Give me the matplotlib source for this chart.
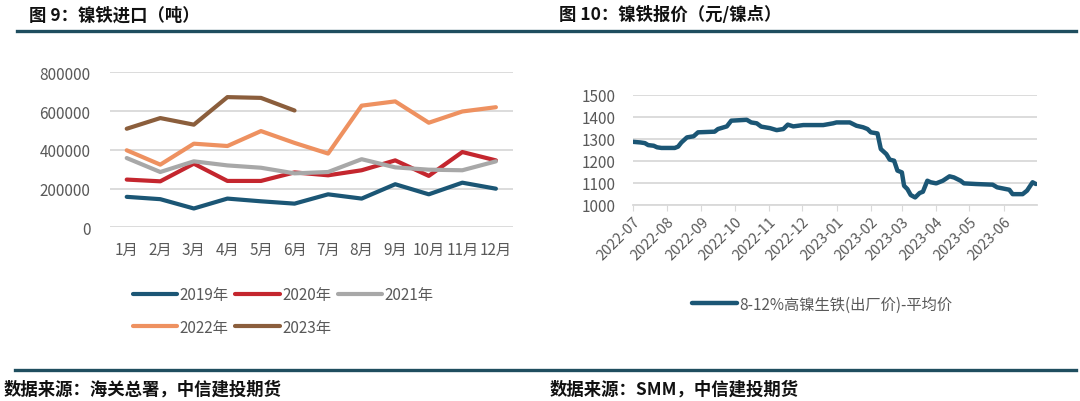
import matplotlib.pyplot as plt
import matplotlib.dates as mdates
import pandas as pd

plt.rcParams['font.family'] = ['Noto Sans CJK SC', 'DejaVu Sans']

# ---- left chart: nickel pig iron imports (tonnes) ----
months = ["1月", "2月", "3月", "4月", "5月", "6月", "7月", "8月", "9月", "10月", "11月", "12月"]
imp_2019 = [158000, 146000, 98000, 149000, 135000, 123000, 171000, 149000, 223000, 171000, 231000, 200000]
imp_2020 = [247000, 238000, 329000, 240000, 240000, 284000, 269000, 295000, 346000, 266000, 389000, 346000]
imp_2021 = [358000, 286000, 341000, 320000, 308000, 279000, 286000, 352000, 310000, 298000, 295000, 341000]
imp_2022 = [398000, 324000, 432000, 420000, 497000, 436000, 381000, 628000, 650000, 540000, 598000, 620000]
imp_2023 = [509000, 564000, 530000, 672000, 668000, 603000]

# ---- right chart: 8-12% high nickel pig iron price (yuan / nickel point) ----
price_dates = [
    "2022-07-01", "2022-07-08", "2022-07-12", "2022-07-15", "2022-07-20", "2022-07-23",
    "2022-07-27", "2022-08-08", "2022-08-11", "2022-08-14", "2022-08-19", "2022-08-25",
    "2022-08-29", "2022-09-13", "2022-09-16", "2022-09-24", "2022-09-28", "2022-10-12",
    "2022-10-16", "2022-10-21", "2022-10-25", "2022-11-02", "2022-11-08", "2022-11-14",
    "2022-11-18", "2022-11-23", "2022-12-02", "2022-12-20", "2022-12-29",
    "2023-01-01", "2023-01-13", "2023-01-19", "2023-01-25", "2023-01-29", "2023-02-01",
    "2023-02-07", "2023-02-10", "2023-02-15", "2023-02-18", "2023-02-22", "2023-02-25",
    "2023-03-01", "2023-03-03", "2023-03-06", "2023-03-09", "2023-03-13", "2023-03-17",
    "2023-03-20", "2023-03-24", "2023-03-27", "2023-04-01", "2023-04-07", "2023-04-13",
    "2023-04-17", "2023-04-23", "2023-04-26", "2023-05-07", "2023-05-22", "2023-05-26",
    "2023-06-06", "2023-06-09", "2023-06-18", "2023-06-22", "2023-06-27", "2023-06-30",
]
price_vals = [
    1286, 1283, 1280, 1271, 1268, 1261,
    1258, 1258, 1264, 1283, 1306, 1311,
    1329, 1332, 1344, 1356, 1382, 1386,
    1374, 1370, 1355, 1348, 1339, 1344,
    1364, 1356, 1362, 1362, 1370,
    1374, 1374, 1359, 1352, 1344, 1329,
    1324, 1253, 1230, 1205, 1200, 1155,
    1147, 1086, 1071, 1044, 1033, 1053,
    1059, 1109, 1102, 1097, 1109, 1129,
    1124, 1109, 1097, 1094, 1091, 1079,
    1068, 1048, 1048, 1064, 1102, 1094,
]

price_label = "8-12%高镍生铁(出厂价)-平均价"

colors = {"2019年": "#1b5675", "2020年": "#c4262e", "2021年": "#a8a8a8",
          "2022年": "#ee9160", "2023年": "#8b5e3c"}
teal = "#1f4e5f"
grid_c = "#d9d9d9"
tick_c = "#595959"

fig = plt.figure(figsize=(10.8, 4.02), dpi=100)

# left axes
ax1 = fig.add_axes([0.1018, 0.4316, 0.3729, 0.3861])
series = [("2019年", imp_2019), ("2020年", imp_2020), ("2021年", imp_2021),
          ("2022年", imp_2022), ("2023年", imp_2023)]
lines = {}
for name, vals in series:
    ln, = ax1.plot(range(len(vals)), vals, color=colors[name], lw=3, label=name,
                   solid_capstyle="round", solid_joinstyle="round")
    lines[name] = ln
ax1.set_xlim(-0.5, 11.5)
ax1.set_ylim(0, 800000)
ax1.set_yticks([0, 200000, 400000, 600000, 800000])
ax1.set_yticklabels(["0", "200000", "400000", "600000", "800000"])
ax1.set_xticks(range(len(months)))
ax1.set_xticklabels(months)
ax1.grid(axis="y", color=grid_c, lw=1.3)
ax1.set_axisbelow(True)
for s in ax1.spines.values():
    s.set_visible(False)
ax1.tick_params(length=0, labelsize=11, colors=tick_c, pad=14)
ax1.tick_params(axis="x", pad=10)

# legend filled column-wise, so reorder to get rows 2019/2020/2021 then 2022/2023
order = ["2019年", "2022年", "2020年", "2023年", "2021年"]
fig.legend([lines[k] for k in order], order, loc="upper left",
           bbox_to_anchor=(0.123, 0.285), ncol=3, frameon=False,
           fontsize=11, handlelength=2.9, handletextpad=0.15,
           columnspacing=0.45, labelspacing=1.0, borderpad=0, borderaxespad=0,
           labelcolor=tick_c)

# right axes
ax2 = fig.add_axes([0.5858, 0.4883, 0.3744, 0.2736])
pdates = pd.to_datetime(price_dates)
ln2, = ax2.plot(pdates, price_vals, color="#1b5675", lw=3.2,
                solid_joinstyle="round", solid_capstyle="round")
ax2.set_xlim(pd.Timestamp("2022-07-01"), pd.Timestamp("2023-07-01"))
ax2.set_ylim(1000, 1500)
ax2.set_yticks([1000, 1100, 1200, 1300, 1400, 1500])
month_ticks = pd.date_range("2022-07-01", "2023-06-01", freq="MS")
ax2.set_xticks(month_ticks)
ax2.xaxis.set_major_formatter(mdates.DateFormatter("%Y-%m"))
ax2.grid(axis="y", color=grid_c, lw=1.3)
ax2.set_axisbelow(True)
for k in ["top", "right", "left"]:
    ax2.spines[k].set_visible(False)
ax2.spines["bottom"].set_color(grid_c)
ax2.spines["bottom"].set_linewidth(1.3)
ax2.tick_params(axis="y", length=0, labelsize=11, colors=tick_c, pad=12)
ax2.tick_params(axis="x", length=4, color=grid_c, labelsize=10.5, labelcolor=tick_c,
                pad=3)
for lab in ax2.get_xticklabels():
    lab.set_rotation(45)
    lab.set_ha("right")
    lab.set_rotation_mode("anchor")

fig.legend([ln2], [price_label], loc="upper left", bbox_to_anchor=(0.641, 0.262),
           frameon=False, fontsize=11, handlelength=2.9, handletextpad=0.15,
           borderpad=0, borderaxespad=0, labelcolor=tick_c)

# titles and frame lines
fig.text(0.027, 0.962, "图 9：镍铁进口（吨）", fontsize=12.5, fontweight="bold",
         va="center", ha="left", color="#111111")
fig.text(0.518, 0.962, "图 10：镍铁报价（元/镍点）", fontsize=12.5, fontweight="bold",
         va="center", ha="left", color="#111111")
fig.add_artist(plt.Line2D([0.016, 0.996], [1 - 32 / 402, 1 - 32 / 402],
                          color=teal, lw=2.4, transform=fig.transFigure))
fig.add_artist(plt.Line2D([0.014, 0.996], [1 - 371 / 402, 1 - 371 / 402],
                          color=teal, lw=2.4, transform=fig.transFigure))
fig.text(0.003, 1 - 390 / 402, "数据来源：海关总署，中信建投期货", fontsize=12.5,
         fontweight="bold", style="italic", va="center", ha="left", color="#111111")
fig.text(0.509, 1 - 390 / 402, "数据来源：SMM，中信建投期货", fontsize=12.5,
         fontweight="bold", style="italic", va="center", ha="left", color="#111111")

fig.savefig("out.png", dpi=100)
